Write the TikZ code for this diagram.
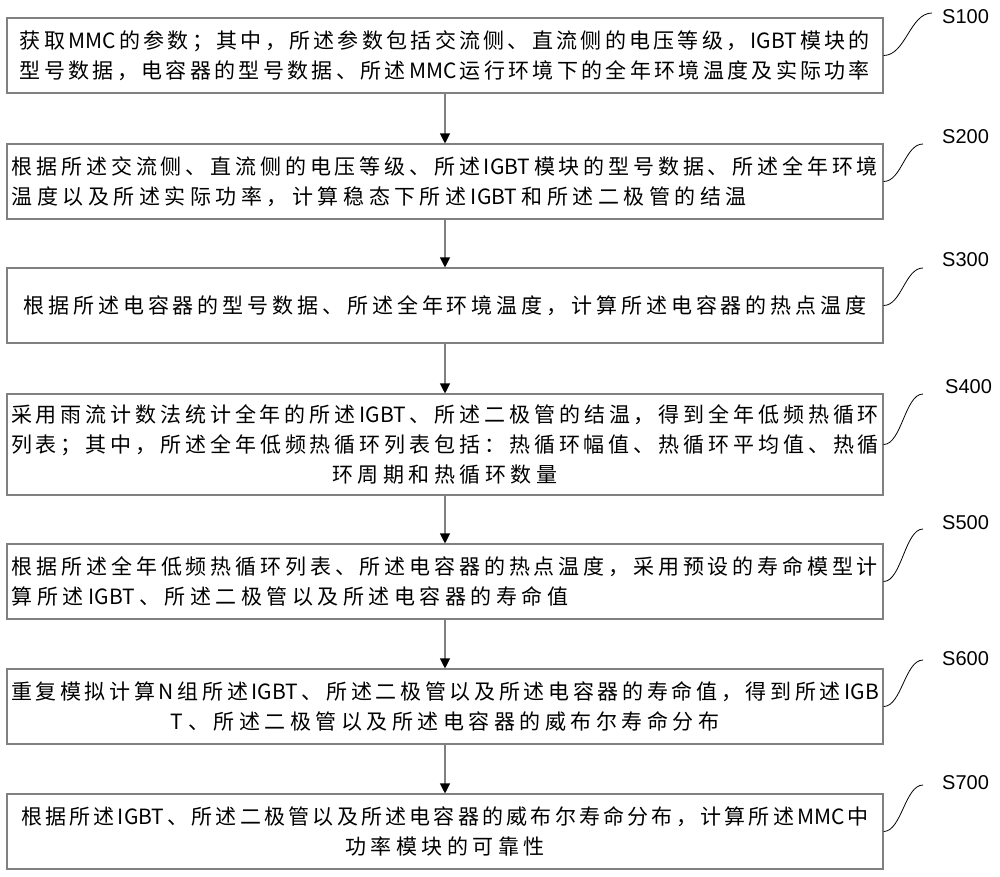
\documentclass[tikz,border=0pt]{standalone}
\usepackage{fontspec}
\setmainfont{Noto Sans CJK SC}
\newfontfamily\labfont{Liberation Sans}
\usetikzlibrary{arrows.meta}
\definecolor{boxgray}{gray}{0.5}
\makeatletter
\newcommand\gapsk{\hskip 4.5pt plus 1fil minus 4pt\relax}
\newcommand\jusline[2]{\leavevmode\hbox to #1{\@tfor\@ch:=#2\do{\@ch\gapsk}\unskip}}
\newcommand\natline[1]{\leavevmode\hbox{\@tfor\@ch:=#1\do{\@ch\gapsk}\unskip}}
\newcommand\lftline[2]{\leavevmode\hbox to #1{\@tfor\@ch:=#2\do{\@ch\gapsk}\unskip\hskip 0pt plus 1fill\relax}}
\makeatother
\begin{document}
\begin{tikzpicture}[x=1pt,y=-1pt,
  stepbox/.style={draw=boxgray, line width=1.1pt, minimum width=876pt, minimum height=75pt,
    text width=868pt, inner xsep=4pt, inner ysep=0pt, align=center,
    font=\fontsize{21pt}{30pt}\selectfont},
  flow/.style={draw=boxgray, line width=1.1pt, -{Triangle[length=10pt,width=10pt,black]}},
  tag/.style={font=\labfont\fontsize{20pt}{24pt}\selectfont, anchor=west, inner sep=0pt},
  lead/.style={draw=black, line width=0.8pt}]
\useasboundingbox (0,0) rectangle (1000,876);

\node[stepbox] (s1) at (445,55.5) {\jusline{850pt}{获取{MMC}的参数；其中，所述参数包括交流侧、直流侧的电压等级，{IGBT}模块的}\\
\jusline{850pt}{型号数据，电容器的型号数据、所述{MMC}运行环境下的全年环境温度及实际功率}};

\node[stepbox] (s2) at (445,181.5) {\jusline{866pt}{根据所述交流侧、直流侧的电压等级、所述{IGBT}模块的型号数据、所述全年环境}\\
\lftline{866pt}{温度以及所述实际功率，计算稳态下所述{IGBT}和所述二极管的结温}};

\node[stepbox] (s3) at (445,305.5) {\jusline{843pt}{根据所述电容器的型号数据、所述全年环境温度，计算所述电容器的热点温度}};

\node[stepbox, minimum height=101pt] (s4) at (445,444.5) {\jusline{868pt}{采用雨流计数法统计全年的所述{IGBT}、所述二极管的结温，得到全年低频热循环}\\
\jusline{868pt}{列表；其中，所述全年低频热循环列表包括：热循环幅值、热循环平均值、热循}\\
\natline{环周期和热循环数量}};

\node[stepbox] (s5) at (445,581.5) {\jusline{866pt}{根据所述全年低频热循环列表、所述电容器的热点温度，采用预设的寿命模型计}\\
\lftline{866pt}{算所述{IGBT}、所述二极管以及所述电容器的寿命值}};

\node[stepbox] (s6) at (445,706.5) {\jusline{868pt}{重复模拟计算{N}组所述{IGBT}、所述二极管以及所述电容器的寿命值，得到所述{IGB}}\\
\natline{{T}、所述二极管以及所述电容器的威布尔寿命分布}};

\node[stepbox] (s7) at (445,831.5) {\jusline{848pt}{根据所述{IGBT}、所述二极管以及所述电容器的威布尔寿命分布，计算所述{MMC}中}\\
\natline{功率模块的可靠性}};

\draw[flow] (s1) -- (s2);
\draw[flow] (s2) -- (s3);
\draw[flow] (s3) -- (s4);
\draw[flow] (s4) -- (s5);
\draw[flow] (s5) -- (s6);
\draw[flow] (s6) -- (s7);

\node[tag] (l1) at (942,17) {S100};
\node[tag] (l2) at (942,137) {S200};
\node[tag] (l3) at (942,260) {S300};
\node[tag] (l4) at (945,387) {S400};
\node[tag] (l5) at (942,523) {S500};
\node[tag] (l6) at (942,659) {S600};
\node[tag] (l7) at (942,783) {S700};

\coordinate (e1) at (932,13);
\coordinate (e2) at (923,144);
\coordinate (e3) at (923,268);
\coordinate (e4) at (923,394);
\coordinate (e5) at (923,529);
\coordinate (e6) at (923,660);
\coordinate (e7) at (923,785);

\draw[lead] (s1.east) .. controls +(22,0) and +(-22,0) .. (e1);
\draw[lead] (s2.east) .. controls +(18,0) and +(-18,0) .. (e2);
\draw[lead] (s3.east) .. controls +(18,0) and +(-18,0) .. (e3);
\draw[lead] (s4.east) .. controls +(18,0) and +(-18,0) .. (e4);
\draw[lead] (s5.east) .. controls +(18,0) and +(-18,0) .. (e5);
\draw[lead] (s6.east) .. controls +(18,0) and +(-18,0) .. (e6);
\draw[lead] (s7.east) .. controls +(18,0) and +(-18,0) .. (e7);
\end{tikzpicture}
\end{document}
